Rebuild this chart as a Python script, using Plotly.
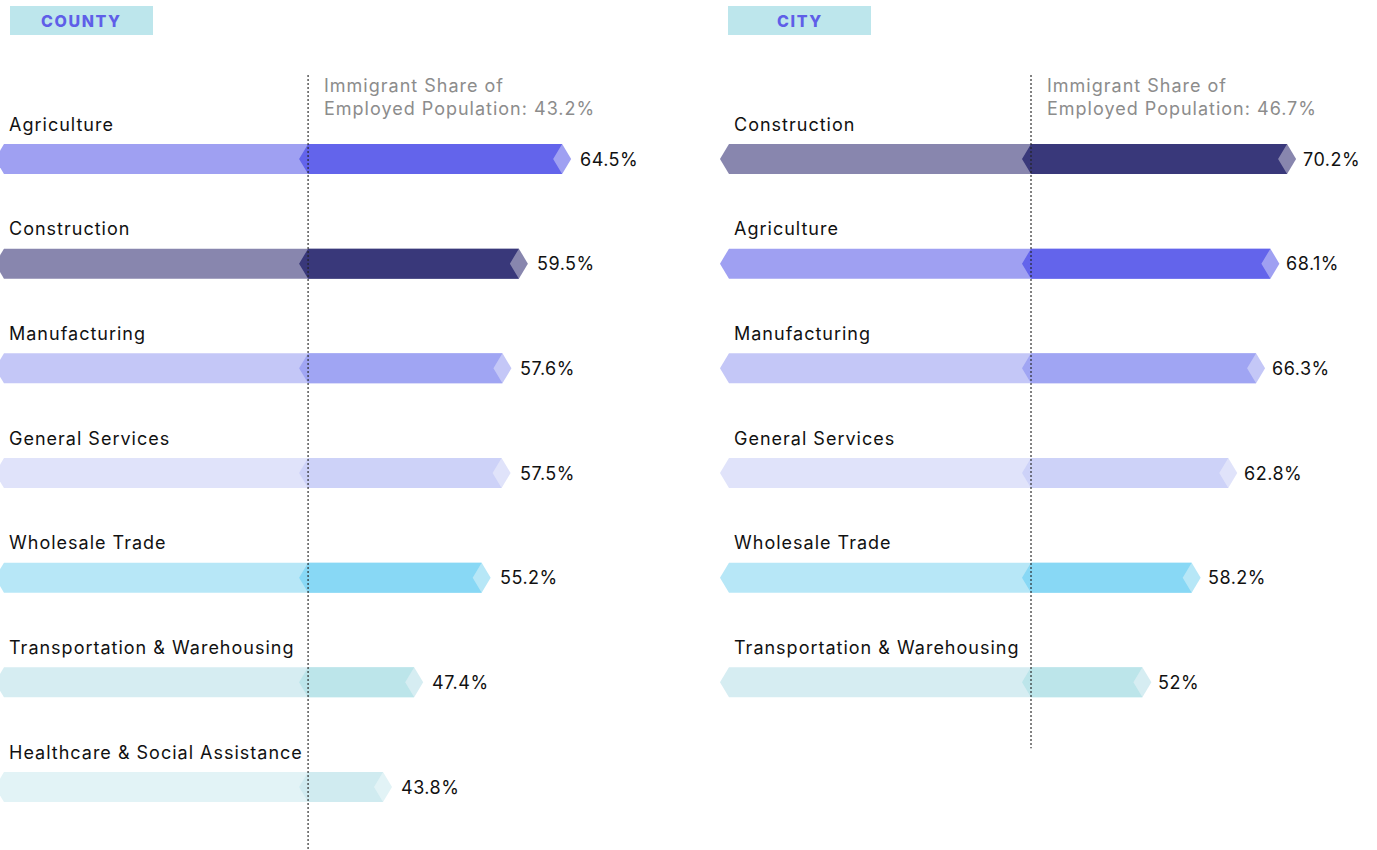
import plotly.graph_objects as go

# ---------------- data ----------------
county_industries = ["Agriculture", "Construction", "Manufacturing", "General Services",
                     "Wholesale Trade", "Transportation & Warehousing",
                     "Healthcare & Social Assistance"]
county_values = [64.5, 59.5, 57.6, 57.5, 55.2, 47.4, 43.8]
county_avg = 43.2

city_industries = ["Construction", "Agriculture", "Manufacturing", "General Services",
                   "Wholesale Trade", "Transportation & Warehousing"]
city_values = [70.2, 68.1, 66.3, 62.8, 58.2, 52.0]
city_avg = 46.7

panel_titles = ["COUNTY", "CITY"]

# ---------------- styles ----------------
COLORS = {  # industry: (light, dark)
    "Agriculture": ("#9FA0F2", "#6364EB"),
    "Construction": ("#8886AE", "#39387A"),
    "Manufacturing": ("#C4C7F7", "#A0A5F3"),
    "General Services": ("#E0E3FA", "#CDD2F8"),
    "Wholesale Trade": ("#B7E7F7", "#88D8F5"),
    "Transportation & Warehousing": ("#D6EDF2", "#BCE5EA"),
    "Healthcare & Social Assistance": ("#E2F3F6", "#D0EBF0"),
}
W, H = 1377, 850
FONT = "Inter, Roboto, Arial, sans-serif"
ROW_PX = 104.67
BAR_HALF_PX = 15
TIP_PX = 9
MARKER_FACTOR = 0.8135  # visual position of reference marker on the bar axis


def spaced(text, px):
    return f"<span style='letter-spacing:{px}px'>{text}</span>"


panels = [
    dict(ind=county_industries, vals=county_values, avg=county_avg,
         xa="x", ya="y", dom=[0.0, 0.5], rng=[-0.46, 79.1], title=panel_titles[0],
         box=[10, 153], label_shift=3, val_shift=16),
    dict(ind=city_industries, vals=city_values, avg=city_avg,
         xa="x2", ya="y2", dom=[0.51, 1.0], rng=[-3.36, 81.51], title=panel_titles[1],
         box=[728, 871], label_shift=3, val_shift=14),
]

y_top = -159 / ROW_PX
y_bot = (H - 159) / ROW_PX
half = BAR_HALF_PX / ROW_PX

fig = go.Figure()
annotations = []
shapes = []

for p in panels:
    dom_px = (p["dom"][1] - p["dom"][0]) * W
    ppu = dom_px / (p["rng"][1] - p["rng"][0])
    tip = TIP_PX / ppu
    split = p["avg"] * MARKER_FACTOR
    n = len(p["ind"])
    for i, (name, v) in enumerate(zip(p["ind"], p["vals"])):
        light, dark = COLORS[name]
        top, bot = i - half, i + half
        # full (light) bar
        xs = [0, v, v + tip, v, 0, -tip, 0]
        ys = [top, top, i, bot, bot, i, top]
        fig.add_trace(go.Scatter(x=xs, y=ys, fill="toself", fillcolor=light, mode="lines",
                                 line=dict(width=0, color=light), hoverinfo="skip",
                                 showlegend=False, xaxis=p["xa"], yaxis=p["ya"]))
        # above-average (dark) chevron
        xs = [split, v, v - tip, v, split, split - tip, split]
        fig.add_trace(go.Scatter(x=xs, y=ys, fill="toself", fillcolor=dark, mode="lines",
                                 line=dict(width=0, color=dark), hoverinfo="skip",
                                 showlegend=False, xaxis=p["xa"], yaxis=p["ya"]))
        annotations.append(dict(x=0, y=i, xref=p["xa"], yref=p["ya"], text=spaced(name, 1.0),
                                showarrow=False, xanchor="left", yanchor="middle",
                                xshift=p["label_shift"], yshift=35,
                                font=dict(family=FONT, size=18, color="#111111")))
        annotations.append(dict(x=v, y=i, xref=p["xa"], yref=p["ya"],
                                text=spaced(f"{v:g}%", 0.5),
                                showarrow=False, xanchor="left", yanchor="middle",
                                xshift=p["val_shift"],
                                font=dict(family=FONT, size=18, color="#111111")))
    # reference marker
    shapes.append(dict(type="line", xref=p["xa"], yref=p["ya"], x0=split, x1=split,
                       y0=-0.8, y1=n - 1 + 0.63,
                       line=dict(color="#222222", width=1.5, dash="1.5px,2.5px"), layer="above"))
    annotations.append(dict(x=split, y=0, xref=p["xa"], yref=p["ya"],
                            text=spaced("Immigrant Share of", 1.0) + "<br>"
                            + spaced(f"Employed Population: {p['avg']}%", 1.0),
                            showarrow=False, xanchor="left", yanchor="middle", align="left",
                            xshift=14, yshift=62,
                            font=dict(family=FONT, size=18, color="#8C8C8C")))
    # header box
    x0, x1 = p["box"]
    shapes.append(dict(type="rect", xref="paper", yref="paper", x0=x0 / W, x1=x1 / W,
                       y0=1 - 35 / H, y1=1 - 6 / H, fillcolor="#BDE6EC", line=dict(width=0),
                       layer="below"))
    annotations.append(dict(x=(x0 + x1) / 2 / W, y=1 - 21 / H, xref="paper", yref="paper",
                            text=spaced(p["title"], 1.6),
                            showarrow=False, xanchor="center", yanchor="middle",
                            font=dict(family=FONT, size=16, color="#5F5EE8", weight=800)))

axis_common = dict(showgrid=False, zeroline=False, showticklabels=False, showline=False,
                   fixedrange=True)
fig.update_layout(
    width=W, height=H, margin=dict(l=0, r=0, t=0, b=0),
    paper_bgcolor="white", plot_bgcolor="white",
    xaxis=dict(domain=panels[0]["dom"], range=panels[0]["rng"], **axis_common),
    xaxis2=dict(domain=panels[1]["dom"], range=panels[1]["rng"], **axis_common),
    yaxis=dict(domain=[0, 1], range=[y_bot, y_top], anchor="x", **axis_common),
    yaxis2=dict(domain=[0, 1], range=[y_bot, y_top], anchor="x2", **axis_common),
    annotations=annotations, shapes=shapes, showlegend=False,
)

fig.write_html("out.html", config={"displayModeBar": False},
               post_script="document.body.style.margin='0px';")
